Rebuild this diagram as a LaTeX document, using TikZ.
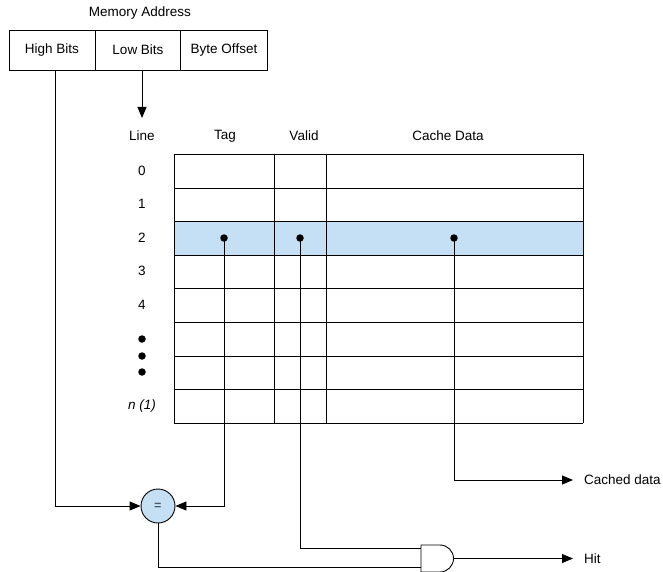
\documentclass[tikz,border=0pt]{standalone}
\usepackage{fontspec}
\setmainfont{Liberation Sans}
\usetikzlibrary{arrows.meta}
\begin{document}
\begin{tikzpicture}[x=1pt,y=-1pt,
  lbl/.style={font=\fontsize{13.5}{16}\selectfont, inner sep=0pt},
  wire/.style={draw=black, line width=0.9pt},
  arr/.style={wire, -{Triangle[length=11pt,width=9pt]}},
  dotm/.style={circle, fill=black, inner sep=0pt, minimum size=7.5pt},
  cell/.style={draw=black, line width=0.9pt}
]
\useasboundingbox (0,0) rectangle (663,572);
% memory address
\node[lbl] (ma) at (140,13) {Memory Address};
\draw[cell] (9,30) rectangle (267,70);
\draw[cell] (95,30) -- (95,70);
\draw[cell] (180,30) -- (180,70);
\node[lbl] (hb) at (52,50) {High Bits};
\node[lbl] (lb) at (138,50) {Low Bits};
\node[lbl] (bo) at (224,50) {Byte Offset};
\coordinate (hbs) at (55,70);
\coordinate (lbs) at (142,70);
\coordinate (lbe) at (142,118);
\draw[arr] (lbs) -- (lbe);
% headers
\node[lbl] (hline) at (142,136) {Line};
\node[lbl] (htag) at (225,136) {Tag};
\node[lbl] (hval) at (304,136) {Valid};
\node[lbl] (hdat) at (448,136) {Cache Data};
% highlighted row
\fill[fill={rgb,255:red,197;green,223;blue,244}] (174,221) rectangle (583,255);
% grid
\foreach \y in {154,188,221,255,288,322,356,389,423} \draw[cell] (174,\y) -- (583,\y);
\foreach \x in {174,274,326,583} \draw[cell] (\x,154) -- (\x,423);
% row labels
\node[lbl] (r0) at (142,171) {0};
\node[lbl] (r1) at (142,204) {1};
\node[lbl] (r2) at (142,238) {2};
\node[lbl] (r3) at (142,271) {3};
\node[lbl] (r4) at (142,305) {4};
\node[dotm] (d1) at (142,339) {};
\node[dotm] (d2) at (142,356) {};
\node[dotm] (d3) at (142,372) {};
\node[lbl] (rn) at (142,406) {\textit{n (1)}};
% dots in row 2
\node[dotm] (ptag) at (224,238) {};
\node[dotm] (pval) at (300,238) {};
\node[dotm] (pdat) at (454,238) {};
% comparator
\node[circle, draw=black, line width=0.9pt, fill={rgb,255:red,197;green,223;blue,244}, minimum size=34pt, inner sep=0pt, font=\fontsize{12}{14}\selectfont\bfseries, text={rgb,255:red,80;green,90;blue,100}] (cmp) at (158,506) {=};
\draw[arr] (hbs) |- (cmp.west);
\draw[arr] (ptag.center) |- (cmp.east);
% AND gate
\draw[cell, fill=white] (421,545) -- (440,545) arc[start angle=90, end angle=-90, x radius=13.5pt, y radius=13.5pt] -- (421,572) -- cycle;
\coordinate (gin1) at (421,548);
\coordinate (gin2) at (421,567);
\coordinate (gout) at (453.5,558.5);
\draw[wire] (pval.center) |- (gin1);
\draw[wire] (cmp.south) |- (gin2);
% outputs
\node[lbl, anchor=west] (cd) at (584,480) {Cached data};
\node[lbl, anchor=west] (hit) at (584,558.5) {Hit};
\draw[arr] (pdat.center) |- ([xshift=-11pt]cd.west);
\draw[arr] (gout) -- ([xshift=-11pt]hit.west);
\end{tikzpicture}
\end{document}
